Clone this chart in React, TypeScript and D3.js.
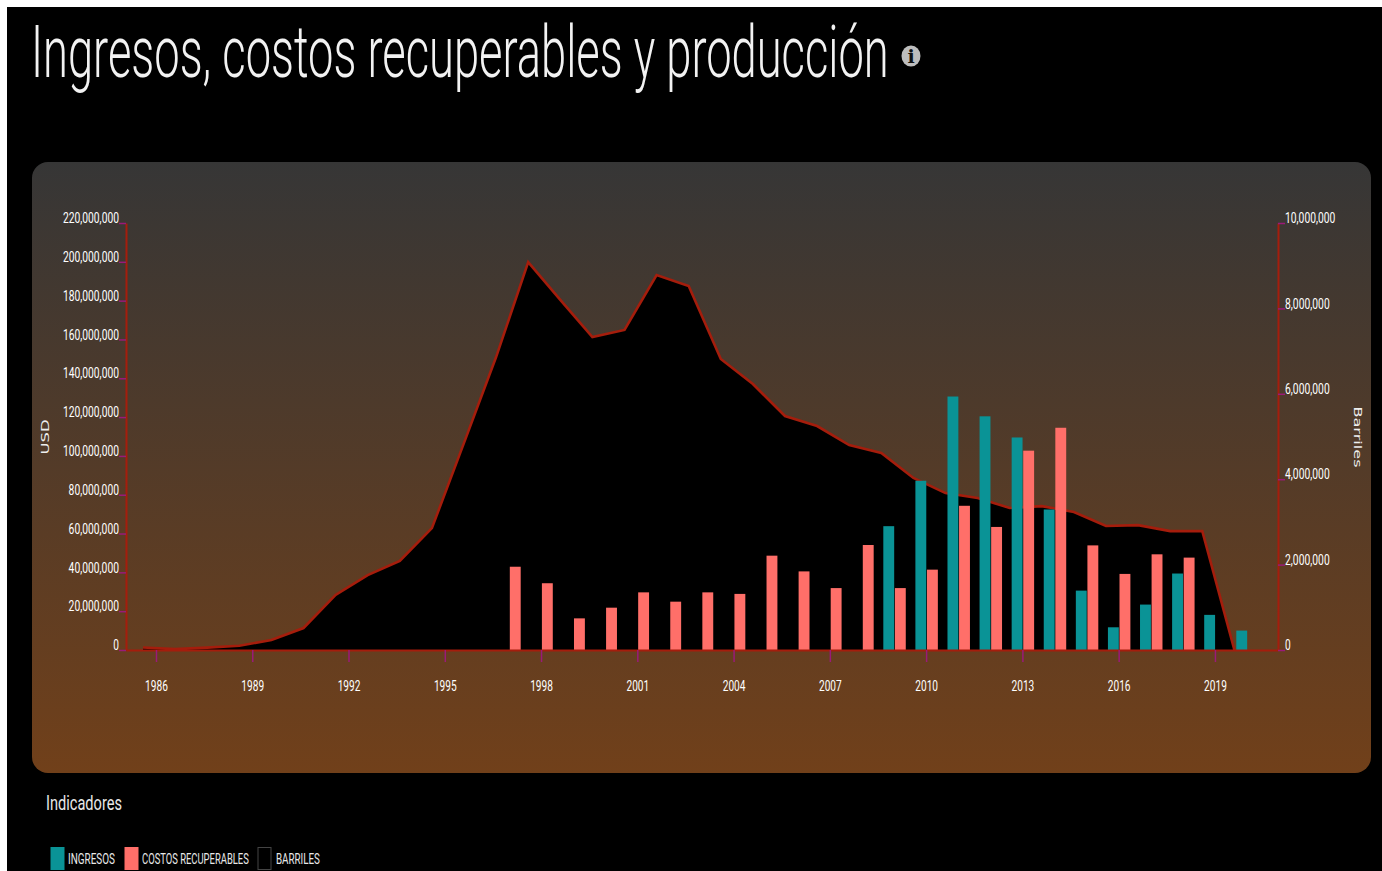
import { useEffect, useRef } from "react";
import * as d3 from "d3";

const WIDTH = 1382;
const HEIGHT = 871;

const years = d3.range(1986, 2021).map(String);
const tickYears = ["1986", "1989", "1992", "1995", "1998", "2001", "2004", "2007", "2010", "2013", "2016", "2019"];

// barrels, one per year from 1986 to 2020
const barriles = [
  60000, 20000, 55000, 100000, 235000, 515000, 1290000, 1755000, 2085000, 2855000,
  4850000, 6860000, 9085000, 8200000, 7330000, 7495000, 8780000, 8525000, 6815000, 6230000,
  5480000, 5245000, 4800000, 4615000, 4030000, 3675000, 3560000, 3325000, 3370000, 3230000,
  2905000, 2925000, 2785000, 2785000, 0,
];

const costosYears = d3.range(1997, 2019).map(String);
const costos = [
  42.9, 34.4, 16.3, 21.8, 29.7, 24.9, 29.7, 28.9, 48.6, 40.5, 31.9,
  54.1, 31.9, 41.4, 74.3, 63.4, 102.7, 114.5, 53.9, 39.2, 49.3, 47.6,
];

const ingresosYears = d3.range(2009, 2021).map(String);
const ingresos = [63.8, 87.2, 130.6, 120.4, 109.5, 72.4, 30.6, 11.7, 23.4, 39.4, 18.1, 10];

const usdTicks = d3.range(0, 220000001, 20000000);
const barrilTicks = [0, 2000000, 4000000, 6000000, 8000000, 10000000];

const legendItems = [
  { label: "INGRESOS", color: "#0a9396", stroke: "#0a9396", x: 51, w: 13, tx: 68, tw: 47 },
  { label: "COSTOS RECUPERABLES", color: "#ff6f69", stroke: "#ff6f69", x: 125, w: 13, tx: 142, tw: 107 },
  { label: "BARRILES", color: "#000000", stroke: "#444444", x: 258, w: 13, tx: 276, tw: 44 },
];

const NARROW = "'Liberation Sans Narrow', Roboto, sans-serif";
const MARGIN = { top: 223, right: 1278, bottom: 650, left: 126 };

// squeezed labels, the original font is a condensed one
const labelWidth = (s: string) => {
  let w = 0;
  for (const c of s) w += c === "," ? 2.4 : 5.7;
  return w;
};

// squeeze a text to a target width with a scale, so its box really shrinks
const fitText = (node: SVGTextElement, x: number, y: number, w: number) => {
  const natural = node.getComputedTextLength() || w;
  node.setAttribute("transform", `translate(${x},${y}) scale(${w / natural},1)`);
};

function App() {
  const svgRef = useRef<SVGSVGElement | null>(null);

  useEffect(() => {
    if (!svgRef.current) return;
    const svg = d3.select(svgRef.current);
    svg.selectAll("*").remove();

    const defs = svg.append("defs");
    const grad = defs
      .append("linearGradient")
      .attr("id", "panel")
      .attr("x1", 0)
      .attr("x2", 0)
      .attr("y1", 0)
      .attr("y2", 1);
    grad.append("stop").attr("offset", "0%").attr("stop-color", "#363636");
    grad.append("stop").attr("offset", "100%").attr("stop-color", "#71401a");

    svg.append("rect").attr("width", WIDTH).attr("height", HEIGHT).attr("fill", "#fff");
    svg.append("rect").attr("x", 7).attr("y", 7).attr("width", WIDTH - 7).attr("height", HEIGHT - 7).attr("fill", "#000");

    // Title
    const title = svg
      .append("text")
      .attr("fill", "#f2f2f2")
      .attr("font-family", "Roboto, sans-serif")
      .attr("font-weight", 300)
      .attr("font-size", 72)
      .text("Ingresos, costos recuperables y producción");
    fitText(title.node() as SVGTextElement, 31, 77, 858);

    // Info icon
    svg.append("ellipse").attr("cx", 911).attr("cy", 56).attr("rx", 9.5).attr("ry", 10.5).attr("fill", "#bdbdbd");
    svg
      .append("text")
      .attr("x", 911)
      .attr("y", 63)
      .attr("text-anchor", "middle")
      .attr("fill", "#111")
      .attr("font-family", "'DejaVu Serif', serif")
      .attr("font-weight", 700)
      .attr("font-size", 19)
      .text("i");

    svg.append("rect").attr("x", 32).attr("y", 162).attr("width", 1339).attr("height", 611).attr("rx", 16).attr("fill", "url(#panel)");

    const x0 = d3
      .scaleBand<string>()
      .domain(years)
      .range([MARGIN.left, MARGIN.right])
      .paddingInner(0.3)
      .paddingOuter(0.6);
    const x1 = d3
      .scaleBand<string>()
      .domain(["ingresos", "costos"])
      .range([0, x0.bandwidth()])
      .paddingInner(0.06);
    // the area runs on its own point scale, a bit left of the band centres
    const xLine = d3.scalePoint<string>().domain(years).range([143, 1234.4]);

    const yUsd = d3.scaleLinear().domain([0, 220000000]).range([MARGIN.bottom, MARGIN.top]);
    const yBar = d3.scaleLinear().domain([0, 10000000]).range([MARGIN.bottom, MARGIN.top]);

    // Area
    const area = d3
      .area<number>()
      .x((_, i) => xLine(years[i]) as number)
      .y0(MARGIN.bottom)
      .y1((d) => yBar(d));
    const line = d3
      .line<number>()
      .x((_, i) => xLine(years[i]) as number)
      .y((d) => yBar(d));

    svg.append("path").datum(barriles).attr("d", area).attr("fill", "#000");
    svg.append("path").datum(barriles).attr("d", line).attr("fill", "none").attr("stroke", "#a51d0c").attr("stroke-width", 2.6);

    // Bars
    svg
      .append("g")
      .selectAll("rect")
      .data(ingresos)
      .join("rect")
      .attr("x", (_, i) => (x0(ingresosYears[i]) as number) + (x1("ingresos") as number))
      .attr("y", (d) => yUsd(d * 1000000))
      .attr("width", x1.bandwidth())
      .attr("height", (d) => MARGIN.bottom - yUsd(d * 1000000))
      .attr("fill", "#0a9396");
    svg
      .append("g")
      .selectAll("rect")
      .data(costos)
      .join("rect")
      .attr("x", (_, i) => (x0(costosYears[i]) as number) + (x1("costos") as number))
      .attr("y", (d) => yUsd(d * 1000000))
      .attr("width", x1.bandwidth())
      .attr("height", (d) => MARGIN.bottom - yUsd(d * 1000000))
      .attr("fill", "#ff6f69");

    const styleAxis = (g: any) => {
      g.select(".domain").attr("stroke", "#a51d0c").attr("stroke-width", 2);
      g.selectAll(".tick line").attr("stroke", "#9a1a78").attr("stroke-width", 1.5);
      g.selectAll(".tick text")
        .attr("fill", "#ffffff")
        .attr("font-family", NARROW)
        .attr("font-size", 14.5)
        .attr("lengthAdjust", "spacingAndGlyphs")
        .attr("textLength", function (this: any) {
          return labelWidth(this.textContent);
        });
    };

    // X axis
    svg
      .append("g")
      .attr("transform", `translate(0,${MARGIN.bottom})`)
      .call(d3.axisBottom(x0).tickValues(tickYears).tickSize(12).tickSizeOuter(0).tickPadding(19))
      .call(styleAxis);

    // Left axis
    svg
      .append("g")
      .attr("transform", `translate(${MARGIN.left},0)`)
      .call(d3.axisLeft(yUsd).tickValues(usdTicks).tickFormat(d3.format(",.0f")).tickSize(7).tickSizeOuter(0).tickPadding(0))
      .call(styleAxis)
      .selectAll(".tick text")
      .attr("dy", "-0.02em");

    // Right axis
    svg
      .append("g")
      .attr("transform", `translate(${MARGIN.right},0)`)
      .call(d3.axisRight(yBar).tickValues(barrilTicks).tickFormat(d3.format(",.0f")).tickSize(7).tickSizeOuter(0).tickPadding(0))
      .call(styleAxis)
      .selectAll(".tick text")
      .attr("dy", "-0.02em");

    // Axis titles
    svg
      .append("text")
      .attr("transform", "translate(49,437) rotate(-90)")
      .attr("text-anchor", "middle")
      .attr("fill", "#eee")
      .attr("font-family", "'DejaVu Sans', sans-serif")
      .attr("font-size", 11)
      .attr("textLength", 35)
      .attr("lengthAdjust", "spacingAndGlyphs")
      .text("USD");
    svg
      .append("text")
      .attr("transform", "translate(1354,437) rotate(90)")
      .attr("text-anchor", "middle")
      .attr("fill", "#eee")
      .attr("font-family", "'DejaVu Sans', sans-serif")
      .attr("font-size", 11)
      .attr("textLength", 61)
      .attr("lengthAdjust", "spacingAndGlyphs")
      .text("Barriles");

    // Legend
    const heading = svg
      .append("text")
      .attr("fill", "#e8e8e8")
      .attr("font-family", NARROW)
      .attr("font-size", 21)
      .text("Indicadores");
    fitText(heading.node() as SVGTextElement, 46, 810, 76);

    const legend = svg.append("g").selectAll("g").data(legendItems).join("g");
    legend
      .append("rect")
      .attr("x", (d) => d.x)
      .attr("y", 847.5)
      .attr("width", (d) => d.w)
      .attr("height", 22)
      .attr("fill", (d) => d.color)
      .attr("stroke", (d) => d.stroke);
    legend
      .append("text")
      .attr("fill", "#e8e8e8")
      .attr("font-family", NARROW)
      .attr("font-size", 15)
      .text((d) => d.label)
      .each(function (d) {
        fitText(this as SVGTextElement, d.tx, 864, d.tw);
      });
  }, []);

  return (
    <svg
      ref={svgRef}
      width={WIDTH}
      height={HEIGHT}
      style={{ position: "absolute", left: 0, top: 0, display: "block" }}
    />
  );
}

export default App;
